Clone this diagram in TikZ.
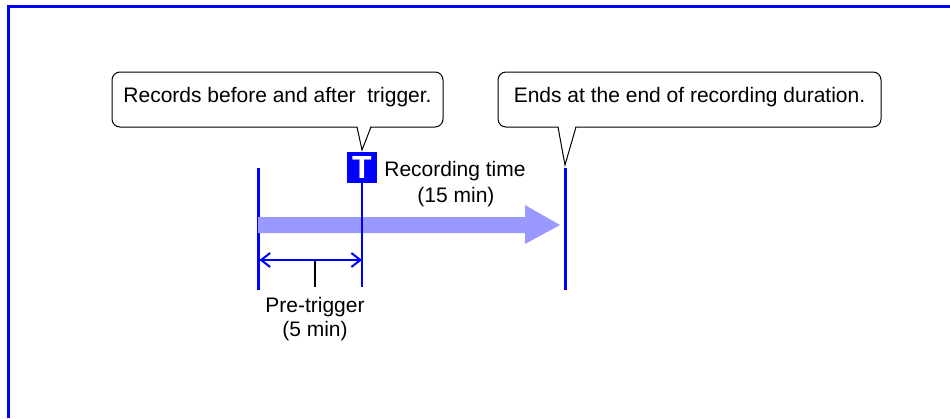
\documentclass[tikz,border=0pt]{standalone}
\usepackage{fontspec}
\setmainfont{Liberation Sans}
\usetikzlibrary{arrows.meta,calc,positioning}
\definecolor{markblue}{RGB}{0,0,255}
\definecolor{spanblue}{RGB}{153,153,255}

\begin{document}
\begin{tikzpicture}[x=1pt,y=-1pt,
  every node/.style={font=\fontsize{21}{24}\selectfont},
  callbox/.style={draw,line width=1pt,fill=white,rounded corners=8pt,inner sep=0pt,
    minimum height=55pt,text height=15pt,text depth=10pt},
  markline/.style={markblue,line width=3pt},
  barb/.tip={Straight Barb[length=9pt,width=14pt]}]
\useasboundingbox (0,0) rectangle (950,418);

% Frame
\draw[markblue,line width=3.5pt] (8.5,418) -- (8.5,6.5) -- (950,6.5);

% Start and end of recording
\coordinate (start top) at (258,168);
\coordinate (start bot) at (258,290);
\coordinate (end top) at (565,168);
\coordinate (end bot) at (565,290);
\draw[markline] (start top) -- (start bot);
\draw[markline] (end top) -- (end bot);

% Recording span
\fill[spanblue] (258,217) -- (525,217) -- (525,205) -- (560,225)
  -- (525,244) -- (525,233) -- (258,233) -- cycle;

% Trigger point
\node[fill=markblue,text=white,font=\fontsize{32}{32}\bfseries\selectfont,
  minimum width=30pt,minimum height=31pt,inner sep=0pt] (trig) at (362,167.5) {T};
\coordinate (trig bot) at (362,287);
\draw[markblue,line width=2pt] (trig.south) -- (trig bot);

% Pre-trigger span
\coordinate (pre left) at (259.5,260);
\coordinate (pre right) at (362,260);
\coordinate (pre mid) at (315,260);
\coordinate (pre tick) at (315,287);
\draw[markblue,line width=2pt,barb-barb] (pre left) -- (pre right);
\draw[line width=1.5pt] (pre mid) -- (pre tick);

% Labels
\node[anchor=base] (rec label) at (455,176) {Recording time};
\node[anchor=base] (rec len) at (456,202) {(15 min)};
\node[anchor=base] (pre label) at (315,312) {Pre-trigger};
\node[anchor=base] (pre len) at (315,336) {(5 min)};

% Callouts
\node[callbox,minimum width=331pt] (before note) at (277.5,99.5) {Records before and after\ \ trigger.};
\coordinate (before tip) at (362,150);
\fill[white] ($(before tip)+(-5,-26)$) -- (before tip) -- ($(before tip)+(9,-26)$) -- cycle;
\draw[line width=1pt] ($(before tip)+(-5,-23)$) -- (before tip) -- ($(before tip)+(9,-23)$);

\node[callbox,minimum width=383pt] (end note) at (689.5,99.5) {Ends at the end of recording duration.};
\coordinate (end tip) at (565,165);
\fill[white] ($(end tip)+(-7,-41)$) -- (end tip) -- ($(end tip)+(11,-41)$) -- cycle;
\draw[line width=1pt] ($(end tip)+(-7,-38)$) -- (end tip) -- ($(end tip)+(11,-38)$);
\end{tikzpicture}
\end{document}
